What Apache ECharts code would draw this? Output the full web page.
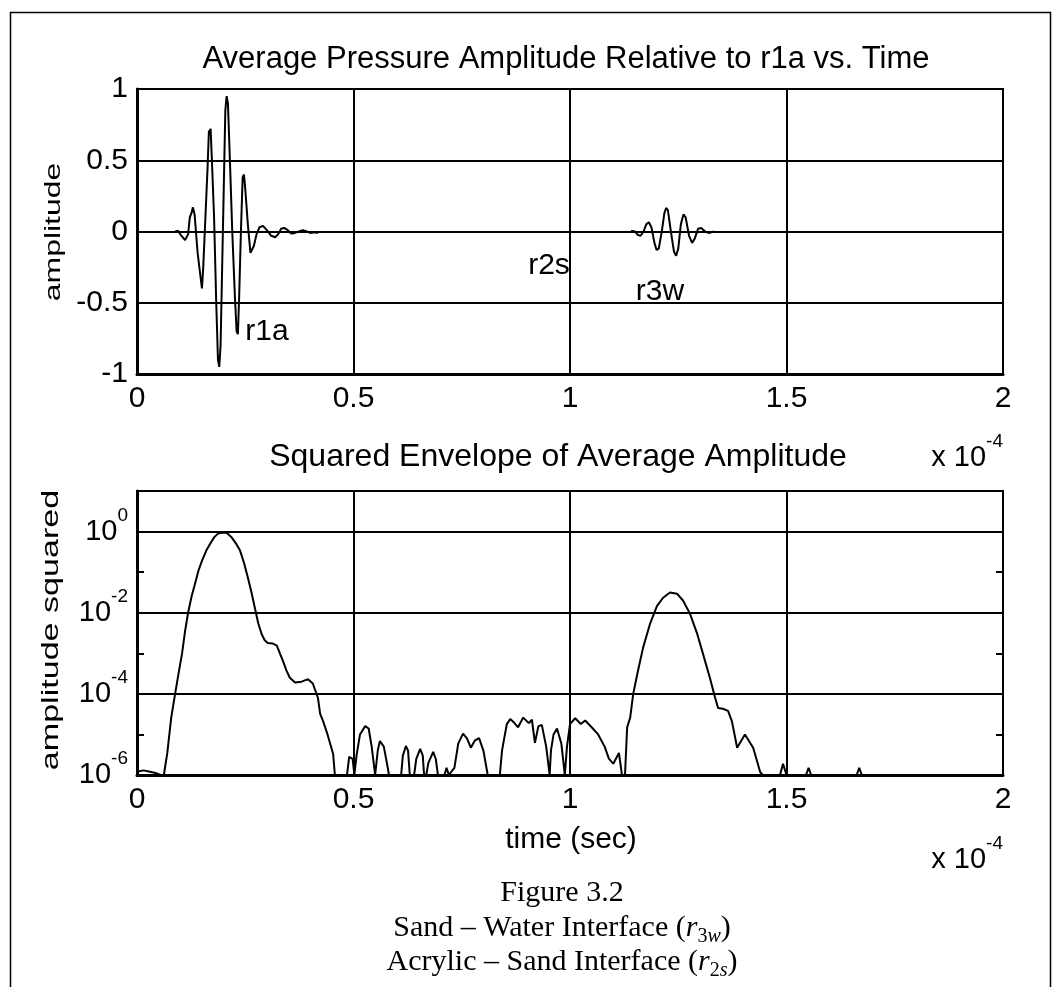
<!DOCTYPE html>
<html>
<head>
<meta charset="utf-8">
<script src="https://cdn.jsdelivr.net/npm/echarts@6/dist/echarts.min.js"></script>
<style>
  html, body { margin: 0; padding: 0; background: #fff; }
  #chart { width: 1055px; height: 987px; }
</style>
</head>
<body>
<div id="chart"></div>
<script>
// Time is given in units of 1e-4 s (the axes carry an "x 10^-4" multiplier).
const timeTicks = [0, 0.5, 1, 1.5, 2];
const amplitudeTicks = [-1, -0.5, 0, 0.5, 1];
const envelopeDecades = [-6, -4, -2, 0];

// r1a reflection: time and pressure amplitude relative to r1a
const r1aTime = [0.088, 0.095, 0.100, 0.111, 0.118, 0.122, 0.126, 0.129, 0.133, 0.140, 0.146, 0.150, 0.153, 0.158,
  0.163, 0.166, 0.170, 0.173, 0.178, 0.183, 0.187, 0.190, 0.193, 0.197, 0.201, 0.204, 0.207, 0.210, 0.214, 0.220,
  0.226, 0.230, 0.233, 0.236, 0.240, 0.244, 0.247, 0.250, 0.256, 0.262, 0.266, 0.270, 0.276, 0.283, 0.291, 0.300,
  0.310, 0.319, 0.326, 0.333, 0.340, 0.348, 0.356, 0.365, 0.374, 0.383, 0.392, 0.400, 0.410, 0.418];
const r1aAmp = [0.00, 0.005, -0.02, -0.06, -0.02, 0.10, 0.13, 0.17, 0.12, -0.15, -0.30, -0.40, -0.25, 0.10,
  0.45, 0.70, 0.72, 0.50, 0.10, -0.50, -0.90, -0.95, -0.80, -0.20, 0.40, 0.85, 0.95, 0.90, 0.55, 0.00,
  -0.45, -0.70, -0.72, -0.45, 0.00, 0.38, 0.40, 0.30, 0.05, -0.15, -0.16, -0.10, -0.02, 0.03, 0.04, 0.01,
  -0.03, -0.04, -0.02, 0.02, 0.025, 0.01, -0.015, -0.01, 0.00, 0.01, 0.00, -0.01, -0.005, -0.01];

// r3w reflection (sand - water interface)
const r3wTime = [1.141, 1.150, 1.157, 1.163, 1.170, 1.176, 1.182, 1.188, 1.195, 1.200, 1.205, 1.212, 1.218, 1.222,
  1.226, 1.233, 1.240, 1.245, 1.250, 1.256, 1.262, 1.267, 1.275, 1.282, 1.288, 1.296, 1.303, 1.312, 1.320, 1.333];
const r3wAmp = [0.005, 0.00, -0.025, -0.03, 0.00, 0.05, 0.065, 0.03, -0.08, -0.13, -0.12, 0.00, 0.13, 0.165,
  0.15, 0.00, -0.14, -0.17, -0.12, 0.05, 0.12, 0.10, -0.03, -0.08, -0.05, 0.02, 0.025, 0.00, -0.01, 0.00];

// Squared envelope of the average amplitude
const envTime = [0.000, 0.015, 0.030, 0.045, 0.055, 0.062, 0.070, 0.079, 0.088, 0.096, 0.104, 0.111, 0.118, 0.126,
  0.134, 0.142, 0.150, 0.160, 0.169, 0.178, 0.187, 0.199, 0.207, 0.219, 0.228, 0.238, 0.247, 0.256, 0.264, 0.272,
  0.280, 0.288, 0.295, 0.302, 0.313, 0.323, 0.330, 0.337, 0.345, 0.353, 0.365, 0.380, 0.395, 0.406, 0.418, 0.423,
  0.430, 0.440, 0.453, 0.457, 0.485, 0.490, 0.498, 0.502, 0.507, 0.515, 0.527, 0.535, 0.542, 0.550, 0.556, 0.561,
  0.570, 0.577, 0.582, 0.610, 0.614, 0.621, 0.626, 0.630, 0.640, 0.645, 0.654, 0.660, 0.663, 0.668, 0.673, 0.684,
  0.690, 0.695, 0.710, 0.715, 0.720, 0.733, 0.742, 0.753, 0.762, 0.771, 0.780, 0.790, 0.800, 0.810, 0.838, 0.843,
  0.854, 0.862, 0.870, 0.880, 0.892, 0.905, 0.912, 0.919, 0.927, 0.935, 0.945, 0.953, 0.956, 0.962, 0.970, 0.980,
  0.988, 0.993, 1.000, 1.012, 1.025, 1.035, 1.050, 1.065, 1.080, 1.090, 1.100, 1.113, 1.120, 1.127, 1.132, 1.139,
  1.146, 1.157, 1.169, 1.185, 1.201, 1.215, 1.231, 1.247, 1.261, 1.277, 1.293, 1.307, 1.323, 1.335, 1.342, 1.353,
  1.365, 1.374, 1.386, 1.404, 1.423, 1.439, 1.445, 1.485, 1.492, 1.500, 1.545, 1.551, 1.557, 1.662, 1.668, 1.674, 2.000];
const envSquared = [1.2e-6, 1.3e-6, 1.2e-6, 1.1e-6, 1e-6, 1e-6, 3.5e-6, 2.6e-5, 1.0e-4, 3.2e-4, 9.8e-4, 3.5e-3, 1.0e-2, 2.5e-2,
  5.2e-2, 0.11, 0.19, 0.34, 0.50, 0.72, 0.89, 0.95, 0.93, 0.71, 0.52, 0.34, 0.17, 0.074, 0.033, 0.0135,
  5.5e-3, 2.95e-3, 2.1e-3, 1.8e-3, 1.75e-3, 1.55e-3, 1.0e-3, 6.5e-4, 3.8e-4, 2.5e-4, 1.9e-4, 2.0e-4, 2.3e-4, 1.8e-4, 7.9e-5, 3.2e-5,
  2.1e-5, 1.0e-5, 3.3e-6, 1e-6, 1e-6, 2.8e-6, 2.5e-6, 1e-6, 3e-6, 1.0e-5, 1.6e-5, 1.4e-5, 5e-6, 1e-6, 4e-6, 6.9e-6,
  5e-6, 2e-6, 1e-6, 1e-6, 3e-6, 5.2e-6, 4e-6, 1e-6, 1e-6, 2.5e-6, 4.4e-6, 3e-6, 1e-6, 1e-6, 2e-6, 3.7e-6,
  2.5e-6, 1e-6, 1e-6, 1.5e-6, 1e-6, 1.5e-6, 6e-6, 1.05e-5, 8e-6, 4.7e-6, 7e-6, 8.1e-6, 4e-6, 1e-6, 1e-6, 4e-6,
  1.8e-5, 2.4e-5, 2.0e-5, 1.5e-5, 2.6e-5, 1.9e-5, 2.3e-5, 6.2e-6, 1.6e-5, 1.7e-5, 5e-6, 1e-6, 4e-6, 1.0e-5, 1.4e-5, 6e-6,
  1e-6, 5e-6, 1.8e-5, 2.5e-5, 1.8e-5, 2.2e-5, 1.5e-5, 1.0e-5, 5e-6, 2.5e-6, 1.9e-6, 3.5e-6, 1e-6, 1e-6, 1.5e-5, 2.6e-5,
  1.0e-4, 3.7e-4, 1.4e-3, 5.4e-3, 0.0148, 0.0234, 0.0316, 0.0295, 0.020, 9.5e-3, 3.2e-3, 9.8e-4, 2.5e-4, 8.1e-5, 4.5e-5, 4.3e-5,
  3.8e-5, 2.1e-5, 4.7e-6, 1.0e-5, 4.7e-6, 1.2e-6, 1e-6, 1e-6, 1.9e-6, 1e-6, 1e-6, 1.5e-6, 1e-6, 1e-6, 1.5e-6, 1e-6, 1e-6];

const zip = (a, b) => a.map((v, i) => [v, b[i]]);

const SANS = "'Liberation Sans', Arial, Helvetica, sans-serif";
const SERIF = "'Liberation Serif', 'Times New Roman', serif";
const BLACK = '#000';

// "10" with a raised exponent
const powerRich = {
  b: { fontSize: 29, fontFamily: SANS, color: BLACK, lineHeight: 30, verticalAlign: 'middle' },
  s: { fontSize: 19, fontFamily: SANS, color: BLACK, lineHeight: 20, verticalAlign: 'middle', padding: [0, 0, 32, 0] }
};

function timeAxis(gridIndex) {
  return {
    type: 'value', gridIndex, min: timeTicks[0], max: timeTicks[timeTicks.length - 1],
    interval: timeTicks[1] - timeTicks[0],
    axisLine: { show: true, onZero: false, lineStyle: { color: BLACK, width: 3 } },
    axisTick: { show: false },
    axisLabel: { show: true, color: BLACK, fontSize: 30, fontFamily: SANS, margin: 10,
      showMinLabel: true, showMaxLabel: true, formatter: v => String(v) },
    splitLine: { show: true, lineStyle: { color: BLACK, width: 2 } }
  };
}

// decade tick marks drawn inward from one side of the envelope box
function decadeTickAxis(position) {
  return {
    type: 'log', logBase: 10, gridIndex: 1, min: 1e-6, max: 10, position, offset: 0,
    axisLine: { show: false },
    axisTick: { show: true, inside: true, length: 7, lineStyle: { color: BLACK, width: 2 } },
    axisLabel: { show: false },
    splitLine: { show: false }
  };
}

const option = {
  animation: false,
  backgroundColor: '#fff',
  grid: [
    { left: 137, top: 89, width: 866, height: 285, show: true, borderColor: BLACK, borderWidth: 2, backgroundColor: 'transparent' },
    { left: 137, top: 491, width: 866, height: 284, show: true, borderColor: BLACK, borderWidth: 2, backgroundColor: 'transparent' }
  ],
  xAxis: [timeAxis(0), timeAxis(1)],
  yAxis: [
    {
      type: 'value', gridIndex: 0, min: amplitudeTicks[0], max: amplitudeTicks[amplitudeTicks.length - 1],
      interval: amplitudeTicks[1] - amplitudeTicks[0],
      axisLine: { show: true, onZero: false, lineStyle: { color: BLACK, width: 3 } },
      axisTick: { show: false },
      axisLabel: { color: BLACK, fontSize: 30, fontFamily: SANS, margin: 9, showMinLabel: true, showMaxLabel: true,
        formatter: v => String(v) },
      splitLine: { show: true, lineStyle: { color: BLACK, width: 2 } }
    },
    {
      type: 'log', logBase: 10, gridIndex: 1, min: 1e-6, max: 10, position: 'left',
      axisLine: { show: true, onZero: false, lineStyle: { color: BLACK, width: 3 } },
      axisTick: { show: false },
      axisLabel: {
        color: BLACK, margin: 9, showMinLabel: true, showMaxLabel: true,
        formatter: v => {
          const e = Math.round(Math.log10(v));
          return envelopeDecades.indexOf(e) >= 0 ? '{b|10}{s|' + e + '}' : '';
        },
        rich: powerRich
      },
      // a grid line on every second decade
      splitLine: { show: true, lineStyle: { color: [BLACK, 'rgba(0,0,0,0)'], width: 2 } }
    },
    decadeTickAxis('left'),
    decadeTickAxis('right')
  ],
  series: [
    { type: 'line', xAxisIndex: 0, yAxisIndex: 0, data: zip(r1aTime, r1aAmp), showSymbol: false,
      lineStyle: { color: BLACK, width: 2 }, z: 5 },
    { type: 'line', xAxisIndex: 0, yAxisIndex: 0, data: zip(r3wTime, r3wAmp), showSymbol: false,
      lineStyle: { color: BLACK, width: 2 }, z: 5 },
    { type: 'line', xAxisIndex: 1, yAxisIndex: 1, data: zip(envTime, envSquared), showSymbol: false,
      lineStyle: { color: BLACK, width: 2 }, z: 5 }
  ],
  graphic: [
    { type: 'rect', left: 8, top: 10, shape: { width: 1040, height: 1000 },
      style: { fill: 'none', stroke: BLACK, lineWidth: 1.5 }, silent: true },
    { type: 'text', x: 566, y: 59, style: { text: 'Average Pressure Amplitude Relative to r1a vs. Time',
      font: '31px ' + SANS, fill: BLACK, textAlign: 'center', textVerticalAlign: 'middle' } },
    { type: 'text', x: 558, y: 457, style: { text: 'Squared Envelope of Average Amplitude',
      font: '32px ' + SANS, fill: BLACK, textAlign: 'center', textVerticalAlign: 'middle' } },
    { type: 'text', x: 54, y: 232, rotation: Math.PI / 2, scaleX: 1.45,
      style: { text: 'amplitude', font: '22px ' + SANS, fill: BLACK, textAlign: 'center', textVerticalAlign: 'middle' } },
    { type: 'text', x: 51, y: 630, rotation: Math.PI / 2, scaleX: 1.42,
      style: { text: 'amplitude squared', font: '24px ' + SANS, fill: BLACK, textAlign: 'center', textVerticalAlign: 'middle' } },
    { type: 'text', x: 571, y: 840, style: { text: 'time (sec)',
      font: '30px ' + SANS, fill: BLACK, textAlign: 'center', textVerticalAlign: 'middle' } },
    { type: 'text', x: 1003, y: 458, style: { text: '{b|x 10}{s|-4}', rich: powerRich,
      textAlign: 'right', textVerticalAlign: 'middle' } },
    { type: 'text', x: 1003, y: 860, style: { text: '{b|x 10}{s|-4}', rich: powerRich,
      textAlign: 'right', textVerticalAlign: 'middle' } },
    { type: 'text', x: 267, y: 332, style: { text: 'r1a', font: '30px ' + SANS, fill: BLACK,
      textAlign: 'center', textVerticalAlign: 'middle' } },
    { type: 'text', x: 549, y: 266, style: { text: 'r2s', font: '30px ' + SANS, fill: BLACK,
      textAlign: 'center', textVerticalAlign: 'middle' } },
    { type: 'text', x: 660, y: 292, style: { text: 'r3w', font: '30px ' + SANS, fill: BLACK,
      textAlign: 'center', textVerticalAlign: 'middle' } },
    { type: 'text', x: 562, y: 893, style: { text: 'Figure 3.2', font: '30px ' + SERIF, fill: BLACK,
      textAlign: 'center', textVerticalAlign: 'middle' } },
    { type: 'text', x: 562, y: 928, style: {
      text: '{t|Sand \u2013 Water Interface (}{i|r}{sub|3}{isub|w}{t|)}',
      textAlign: 'center', textVerticalAlign: 'middle',
      rich: {
        t: { font: '30px ' + SERIF, fill: BLACK, lineHeight: 34, verticalAlign: 'middle' },
        i: { font: 'italic 30px ' + SERIF, fill: BLACK, lineHeight: 34, verticalAlign: 'middle' },
        sub: { font: '20px ' + SERIF, fill: BLACK, lineHeight: 20, verticalAlign: 'middle', padding: [18, 0, 0, 0] },
        isub: { font: 'italic 20px ' + SERIF, fill: BLACK, lineHeight: 20, verticalAlign: 'middle', padding: [18, 0, 0, 0] }
      } } },
    { type: 'text', x: 562, y: 962, style: {
      text: '{t|Acrylic \u2013 Sand Interface (}{i|r}{sub|2}{isub|s}{t|)}',
      textAlign: 'center', textVerticalAlign: 'middle',
      rich: {
        t: { font: '30px ' + SERIF, fill: BLACK, lineHeight: 34, verticalAlign: 'middle' },
        i: { font: 'italic 30px ' + SERIF, fill: BLACK, lineHeight: 34, verticalAlign: 'middle' },
        sub: { font: '20px ' + SERIF, fill: BLACK, lineHeight: 20, verticalAlign: 'middle', padding: [18, 0, 0, 0] },
        isub: { font: 'italic 20px ' + SERIF, fill: BLACK, lineHeight: 20, verticalAlign: 'middle', padding: [18, 0, 0, 0] }
      } } }
  ]
};

const chart = echarts.init(document.getElementById('chart'), null, { renderer: 'canvas' });
chart.setOption(option);
</script>
</body>
</html>
